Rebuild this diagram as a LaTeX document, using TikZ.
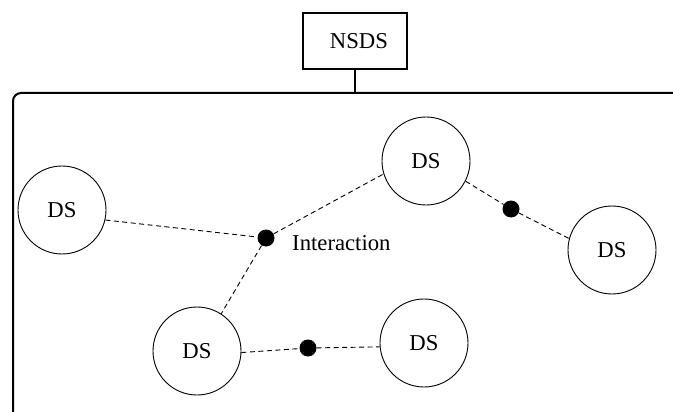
\documentclass[tikz,border=0pt]{standalone}
\usepackage{fontspec}
\setmainfont{Liberation Serif}
\begin{document}
\begin{tikzpicture}[x=1pt,y=-1pt,
  txt/.style={font=\fontsize{22.7}{27}\selectfont},
  ds/.style={circle,draw,line width=0.9pt,minimum size=88pt,inner sep=0pt,txt},
  dot/.style={circle,fill=black,minimum size=17pt,inner sep=0pt},
  link/.style={dash pattern=on 5pt off 3.5pt,line width=0.9pt},
  frame/.style={line width=2pt}]
\useasboundingbox (0,0) rectangle (673,412);
\clip (0,0) rectangle (673,412);
% NSDS box and frame
\node[draw,line width=2pt,minimum width=104pt,minimum height=56pt,inner sep=0pt,txt] (nsds) at (355,41) {\hspace*{8pt}NSDS};
\coordinate (bus) at (355,93);
\coordinate (fbl) at (13,440);
\coordinate (ftl) at (13,93);
\coordinate (ftr) at (700,93);
\draw[frame,rounded corners=8pt] (fbl) -- (ftl) -- (ftr);
\draw[frame] (nsds.south) -- (bus);
% DS nodes
\node[ds] (ds1) at (62,210) {DS};
\node[ds] (ds2) at (426,161) {DS};
\node[ds] (ds3) at (612,250) {DS};
\node[ds] (ds4) at (197,351) {DS};
\node[ds] (ds5) at (424,343) {DS};
% interaction dots
\node[dot] (d1) at (266,238) {};
\node[dot] (d2) at (511,209) {};
\node[dot] (d3) at (308,348) {};
\node[txt,anchor=base west,inner sep=0pt] (ilbl) at (292,250) {Interaction};
% links
\draw[link] (ds1.-13) -- (d1);
\draw[link] (d1) -- (ds2.197);
\draw[link] (d1) -- (ds4.57);
\draw[link] (ds2.-27) -- (d2);
\draw[link] (d2) -- (ds3.165);
\draw[link] (ds4.-2) -- (d3);
\draw[link] (d3) -- (ds5.185);
\end{tikzpicture}
\end{document}
